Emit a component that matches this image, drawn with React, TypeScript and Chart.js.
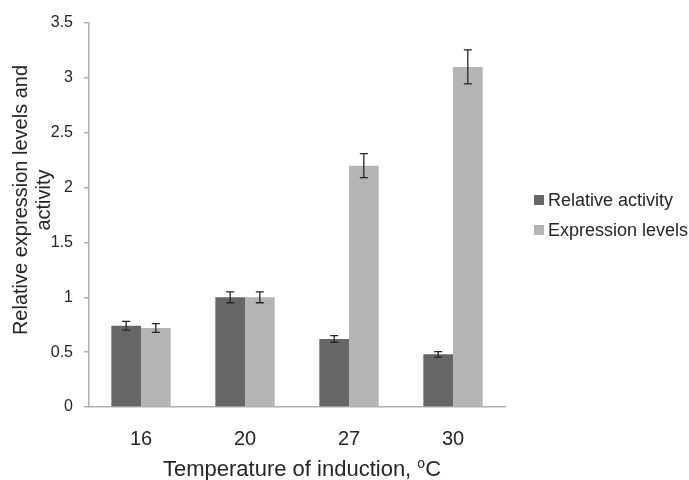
import React, { useEffect, useRef } from "react";
import { Chart, registerables } from "chart.js";

Chart.register(...registerables);

const categories = ["16", "20", "27", "30"];
const relativeActivity = [0.74, 1.0, 0.62, 0.48];
const relativeActivityErr = [0.04, 0.05, 0.03, 0.025];
const expressionLevels = [0.72, 1.0, 2.2, 3.1];
const expressionLevelsErr = [0.04, 0.05, 0.11, 0.155];
const seriesNames = ["Relative activity", "Expression levels"];
const yTitleLines = ["Relative expression levels and", "activity"];
const xTitleText = "Temperature of induction, ";

const DARK = "#666666";
const LIGHT = "#b4b4b4";
const TEXT = "#262626";
const FONT = "'Liberation Sans', Arial, sans-serif";

const errors = [relativeActivityErr, expressionLevelsErr];

const errorBarPlugin = {
  id: "errorBars",
  afterDatasetsDraw(chart: any) {
    const ctx = chart.ctx;
    const y = chart.scales.y;
    ctx.save();
    ctx.strokeStyle = "#262626";
    ctx.lineWidth = 1.3;
    chart.data.datasets.forEach((ds: any, di: number) => {
      const meta = chart.getDatasetMeta(di);
      meta.data.forEach((el: any, i: number) => {
        const v = ds.data[i];
        const e = errors[di][i];
        const top = y.getPixelForValue(v + e);
        const bot = y.getPixelForValue(v - e);
        const x = el.x;
        ctx.beginPath();
        ctx.moveTo(x, top);
        ctx.lineTo(x, bot);
        ctx.moveTo(x - 4, top);
        ctx.lineTo(x + 4, top);
        ctx.moveTo(x - 4, bot);
        ctx.lineTo(x + 4, bot);
        ctx.stroke();
      });
    });
    ctx.restore();
  },
};

const annotationsPlugin = {
  id: "customText",
  afterDraw(chart: any) {
    const ctx = chart.ctx;
    const area = chart.chartArea;
    ctx.save();
    ctx.fillStyle = TEXT;
    // Y title
    ctx.font = `20px ${FONT}`;
    ctx.textAlign = "center";
    ctx.textBaseline = "middle";
    const cy = 200;
    const xs = [21, 44];
    yTitleLines.forEach((line, i) => {
      ctx.save();
      ctx.translate(xs[i], cy);
      ctx.rotate(-Math.PI / 2);
      ctx.fillText(line, 0, 0);
      ctx.restore();
    });
    // X title with superscript o
    ctx.font = `22px ${FONT}`;
    const w1 = ctx.measureText(xTitleText).width;
    ctx.font = `14px ${FONT}`;
    const w2 = ctx.measureText("o").width;
    ctx.font = `22px ${FONT}`;
    const w3 = ctx.measureText("C").width;
    const total = w1 + w2 + w3;
    const cx = 302;
    let x = cx - total / 2;
    const by = 476;
    ctx.textAlign = "left";
    ctx.textBaseline = "alphabetic";
    ctx.fillText(xTitleText, x, by);
    x += w1;
    ctx.font = `14px ${FONT}`;
    ctx.fillText("o", x, by - 8);
    x += w2;
    ctx.font = `22px ${FONT}`;
    ctx.fillText("C", x, by);
    // Legend
    const colors = [DARK, LIGHT];
    const ly = [200, 230];
    ctx.font = `18px ${FONT}`;
    ctx.textBaseline = "middle";
    seriesNames.forEach((name, i) => {
      ctx.fillStyle = colors[i];
      ctx.fillRect(534, ly[i] - 5, 10, 10);
      ctx.fillStyle = TEXT;
      ctx.fillText(name, 548, ly[i] + 1);
    });
    ctx.restore();
  },
};

export default function App() {
  const ref = useRef<HTMLCanvasElement>(null);
  useEffect(() => {
    document.body.style.margin = "0";
    const chart = new Chart(ref.current!, {
      type: "bar",
      data: {
        labels: categories,
        datasets: [
          {
            label: seriesNames[0],
            data: relativeActivity,
            backgroundColor: DARK,
            categoryPercentage: 0.57,
            barPercentage: 1,
          },
          {
            label: seriesNames[1],
            data: expressionLevels,
            backgroundColor: LIGHT,
            categoryPercentage: 0.57,
            barPercentage: 1,
          },
        ],
      },
      options: {
        responsive: false,
        animation: false,
        layout: { padding: { left: 0, top: 23, right: 184, bottom: 0 } },
        plugins: { legend: { display: false }, tooltip: { enabled: false } },
        scales: {
          x: {
            grid: { display: false, drawTicks: false },
            border: { display: true, color: "#b0b0b0", width: 1.5 },
            ticks: {
              color: TEXT,
              font: { size: 20, family: FONT },
              padding: 20,
            },
            afterFit: (s: any) => {
              s.height = 73;
            },
          },
          y: {
            min: 0,
            max: 3.5,
            ticks: {
              stepSize: 0.5,
              color: TEXT,
              font: { size: 16, family: FONT },
              padding: 11,
              callback: (v: any) => String(v),
            },
            grid: {
              drawOnChartArea: false,
              drawTicks: true,
              tickLength: 5,
              color: "#b0b0b0",
              lineWidth: 1.5,
            },
            border: { display: true, color: "#b0b0b0", width: 1.5 },
            afterFit: (s: any) => {
              s.width = 89;
            },
          },
        },
      },
      plugins: [errorBarPlugin, annotationsPlugin],
    });
    return () => chart.destroy();
  }, []);
  return (
    <div style={{ width: 689, height: 480 }}>
      <canvas ref={ref} width={689} height={480} style={{ display: "block" }} />
    </div>
  );
}
